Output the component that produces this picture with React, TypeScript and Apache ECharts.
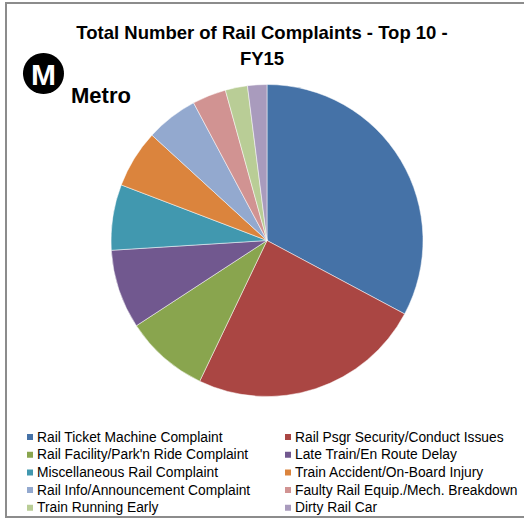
import React, { useEffect, useRef } from "react";
import * as echarts from "echarts";

const titleText = "Total Number of Rail Complaints - Top 10 -\nFY15";
const categories = [
  "Rail Ticket Machine Complaint",
  "Rail Psgr Security/Conduct Issues",
  "Rail Facility/Park'n Ride Complaint",
  "Late Train/En Route Delay",
  "Miscellaneous Rail Complaint",
  "Train Accident/On-Board Injury",
  "Rail Info/Announcement Complaint",
  "Faulty Rail Equip./Mech. Breakdown",
  "Train Running Early",
  "Dirty Rail Car",
];
const values = [328, 243, 87, 82, 68, 60, 54, 35, 23, 20];
const colors = [
  "#4572A7", "#AA4643", "#89A54E", "#71588F", "#4198AF",
  "#DB843D", "#93A9CF", "#D19392", "#B9CD96", "#A99BBD",
];

export default function App() {
  const ref = useRef<HTMLDivElement>(null);
  useEffect(() => {
    if (!ref.current) return;
    const chart = echarts.init(ref.current, null, { renderer: "svg" });
    const leftCol = categories.filter((_, i) => i % 2 === 0);
    const rightCol = categories.filter((_, i) => i % 2 === 1);
    const legendBase = {
      orient: "vertical" as const,
      top: 430,
      height: 95,
      padding: 0,
      itemWidth: 8,
      itemHeight: 8,
      itemGap: 3.7,
      icon: "rect",
      selectedMode: false,
      textStyle: { fontFamily: "Liberation Sans", fontSize: 13.8, lineHeight: 14, color: "#000", padding: [0, 0, 0, -2] },
    };
    chart.setOption({
      animation: false,
      color: colors,
      title: {
        text: titleText,
        left: "center",
        top: 19,
        padding: 0,
        textStyle: { fontFamily: "Liberation Sans", fontWeight: "bold", fontSize: 18.5, lineHeight: 26, color: "#000" },
      },
      legend: [
        { ...legendBase, left: 25, data: leftCol },
        { ...legendBase, left: 283, data: rightCol },
      ],
      series: [
        {
          type: "pie",
          center: [267, 240.5],
          radius: 156,
          startAngle: 90,
          clockwise: true,
          label: { show: false },
          labelLine: { show: false },
          emphasis: { disabled: true },
          itemStyle: { borderColor: "#fff", borderWidth: 0.5 },
          data: categories.map((c, i) => ({ name: c, value: values[i] })),
        },
      ],
      graphic: [
        { type: "rect", shape: { x: 6, y: 3, width: 600, height: 514 }, style: { fill: "none", stroke: "#8c8c8c", lineWidth: 2 }, silent: true },
        { type: "circle", shape: { cx: 43.5, cy: 73.5, r: 20.5 }, style: { fill: "#000" } },
        { type: "text", x: 43.5, y: 74, style: { text: "M", fill: "#fff", font: "bold 30px Liberation Sans", textAlign: "center", textVerticalAlign: "middle" } },
        { type: "text", x: 71, y: 95, style: { text: "Metro", fill: "#000", font: "bold 22px Liberation Sans", textAlign: "left", textVerticalAlign: "middle" } },
      ],
    });
    return () => chart.dispose();
  }, []);
  return <div ref={ref} style={{ position: "fixed", left: 0, top: 0, width: 524, height: 519, background: "#fff" }} />;
}
